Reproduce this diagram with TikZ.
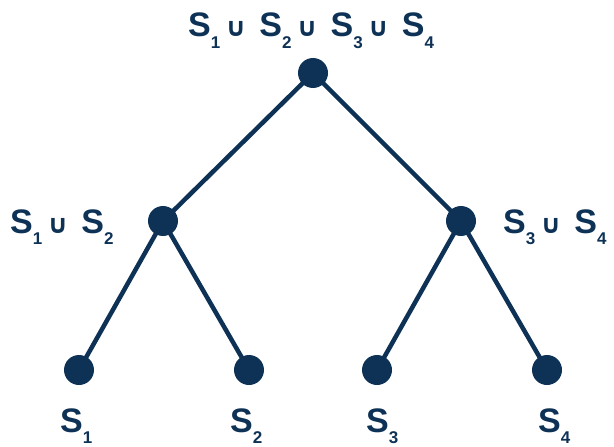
\documentclass[tikz,border=0pt]{standalone}
\usepackage{fontspec}
\setmainfont{Liberation Sans}[BoldFont={* Bold}]
\newfontfamily\cupfont{DejaVu Sans}
\definecolor{navy}{RGB}{14,50,86}
\newcommand{\setsym}[1]{S\raisebox{-11pt}{\fontsize{17}{17}\selectfont #1}}
\newcommand{\cupsym}{\hspace{5pt}{\cupfont\fontsize{26}{26}\selectfont ∪}\hspace{13pt}}
\tikzset{
  dot/.style={circle, fill=navy, inner sep=0pt, minimum size=30pt},
  edge/.style={draw=navy, line width=4.5pt},
  lbl/.style={text=navy, inner sep=0pt, font=\fontsize{34}{34}\selectfont\bfseries}
}
\begin{document}
\begin{tikzpicture}[x=1pt,y=-1pt]
\useasboundingbox (0,0) rectangle (614,447);
\node[dot] (r) at (313,73) {};
\node[dot] (l) at (163,221) {};
\node[dot] (rr) at (461,221) {};
\node[dot] (a) at (79,370) {};
\node[dot] (b) at (249,370) {};
\node[dot] (c) at (377,370) {};
\node[dot] (d) at (547,370) {};
\draw[edge] (r.center) -- (l.center);
\draw[edge] (r.center) -- (rr.center);
\draw[edge] (l.center) -- (a.center);
\draw[edge] (l.center) -- (b.center);
\draw[edge] (rr.center) -- (c.center);
\draw[edge] (rr.center) -- (d.center);
\node[lbl, anchor=base west] (tr) at (188,37) {\setsym{1}\cupsym\setsym{2}\cupsym\setsym{3}\cupsym\setsym{4}};
\node[lbl, anchor=base west] (tl) at (10,233) {\setsym{1}\cupsym\setsym{2}};
\node[lbl, anchor=base west] (tq) at (503,233) {\setsym{3}\cupsym\setsym{4}};
\node[lbl, anchor=base west] (ta) at (60,432) {\setsym{1}};
\node[lbl, anchor=base west] (tb) at (230,432) {\setsym{2}};
\node[lbl, anchor=base west] (tc) at (366,432) {\setsym{3}};
\node[lbl, anchor=base west] (td) at (538,432) {\setsym{4}};
\end{tikzpicture}
\end{document}
